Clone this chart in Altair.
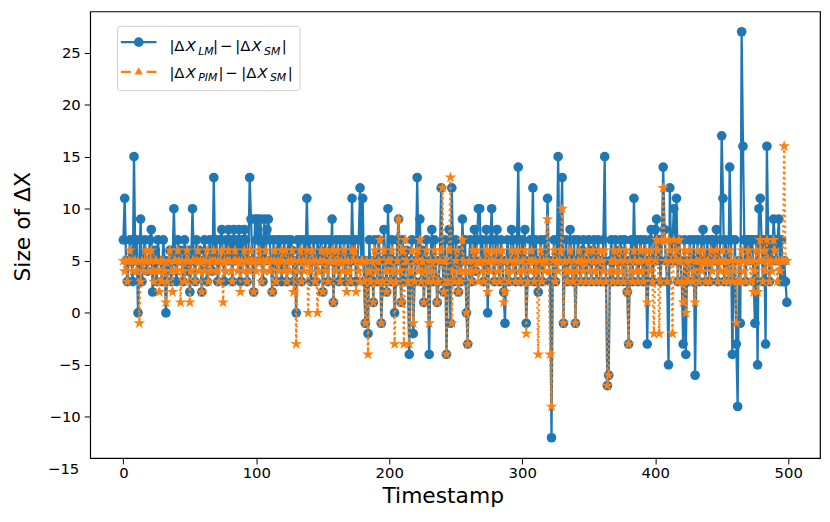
import altair as alt
import pandas as pd

# ---------------- data ----------------
timestamps = list(range(500))

lm_minus_sm = [
    7, 11, 5, 3, 5, 7, 5, 3, 15, 5,
    7, 0, 5, 9, 3, 5, 7, 5, 4, 5,
    7, 8, 2, 5, 6, 3, 7, 5, 5, 3,
    7, 5, 0, 4, 5, 6, 3, 5, 10, 5,
    3, 7, 5, 6, 5, 3, 7, 5, 4, 6,
    2, 5, 10, 5, 3, 7, 5, 6, 5, 2,
    5, 7, 5, 3, 5, 7, 5, 4, 13, 5,
    7, 3, 5, 7, 8, 5, 3, 7, 5, 8,
    5, 7, 3, 8, 5, 7, 5, 8, 3, 7,
    5, 8, 7, 3, 5, 13, 9, 5, 2, 9,
    7, 9, 5, 9, 7, 3, 9, 5, 8, 9,
    7, 5, 2, 7, 5, 3, 7, 5, 7, 3,
    5, 7, 5, 3, 7, 5, 7, 6, 3, 5,
    0, 7, 5, 7, 3, 5, 7, 5, 11, 5,
    7, 3, 5, 7, 5, 3, 7, 5, 6, 7,
    2, 5, 7, 5, 3, 7, 5, 9, 1, 5,
    7, 5, 3, 7, 5, 5, 7, 3, 5, 7,
    5, 3, 11, 5, 7, 3, 5, 7, 12, 5,
    11, 3, -1, 5, -2, 7, 3, 5, 1, 7,
    5, 3, 7, 5, -1, 3, 8, 5, 2, 10,
    5, 3, 7, 5, 0, 3, 7, 9, 5, 1,
    7, 3, 5, 6, 3, -4, 5, 7, -2, 3,
    5, 13, 5, 9, 3, 6, 1, 5, 7, 3,
    -4, 5, 8, 3, 7, 5, 1, 3, 5, 12,
    5, 2, 7, -4, 3, 8, -1, 12, 5, 3,
    7, 5, 2, 6, 3, 9, 5, 7, 0, -3,
    5, 7, 3, 5, 8, 4, 7, 10, 10, 5,
    7, 3, 5, 8, 0, 5, 7, 10, 5, 3,
    7, 8, 5, 3, 7, 5, 2, -1, 5, 7,
    3, 5, 8, 7, 5, 3, 7, 14, 5, 3,
    7, 5, 8, -1, 3, 5, 7, 5, 12, 3,
    7, 5, 2, 5, 7, 3, 5, 7, 5, 11,
    5, 3, -12, 5, 7, 3, 5, 15, 5, 7,
    13, -1, 5, 7, 3, 5, 8, 5, 3, 7,
    -1, 5, 7, 5, 3, 6, 7, 5, 3, 5,
    7, 5, 3, 6, 7, 5, 3, 7, 5, 3,
    5, 7, 15, 3, -7, -6, 5, 7, 3, 5,
    7, 5, 3, 6, 7, 5, 3, 7, 5, 2,
    -3, 5, 7, 3, 11, 5, 7, 3, 5, 7,
    5, 3, 7, 5, -3, 5, 7, 8, 3, 5,
    8, 9, 5, 7, 3, 7, 14, 8, 5, 3,
    -5, 12, 5, 7, 10, 5, 11, 3, 7, 5,
    3, -3, 7, -4, 5, 3, 7, 5, 3, 7,
    -6, 5, 7, 3, 5, 7, 8, 5, 3, 7,
    5, 3, 7, 5, 7, 5, 8, 3, 5, 7,
    17, 11, 3, 7, 5, 3, 14, 7, -4, 3,
    7, -3, -9, 5, -1, 27, 16, 7, 3, 7,
    7, 5, 7, 7, 3, -1, 7, -5, 10, 11,
    7, 3, 7, -3, 16, 7, 3, 7, 5, 9,
    7, 5, 7, 9, 3, 7, 3, 5, 3, 1,
]

pim_minus_sm = [
    5, 4, 5, 3, 5, 6, 5, 4, 5, 5,
    4, 5, -1, 3, 5, 4, 5, 6, 5, 4,
    5, 6, 4, 3, 5, 5, 4, 2, 5, 3,
    5, 4, 1, 3, 5, 6, 4, 2, 5, 5,
    4, 6, 5, 1, 5, 4, 3, 5, 6, 5,
    1, 4, 5, 5, 3, 5, 6, 4, 5, 2,
    5, 4, 5, 6, 3, 5, 4, 5, 6, 5,
    4, 5, 3, 5, 6, 1, 5, 4, 5, 6,
    5, 4, 3, 5, 6, 5, 4, 5, 2, 5,
    4, 6, 5, 3, 5, 4, 6, 5, 2, 5,
    4, 5, 6, 5, 3, 5, 4, 6, 5, 5,
    4, 5, 2, 5, 6, 3, 5, 4, 5, 6,
    5, 4, 6, 3, 5, 4, 5, 6, 2, 5,
    -3, 4, 5, 6, 3, 5, 4, 5, 6, 0,
    5, 4, 6, 5, 3, 5, 0, 4, 5, 6,
    2, 5, 4, 6, 3, 5, 5, 6, 1, 5,
    4, 6, 5, 3, 5, 4, 6, 5, 2, 5,
    4, 3, 6, 5, 6, 2, 5, 4, 3, 5,
    5, 3, -1, 5, -4, 4, 3, 5, 1, 6,
    4, 3, 5, 7, -1, 3, 6, 4, 2, 5,
    5, 3, 6, 4, -3, 3, 5, 9, 4, 1,
    6, -3, 7, 5, 3, -3, 4, 6, -1, 3,
    5, 6, 4, 7, 3, 5, 1, 4, 6, 3,
    -1, 5, 4, 3, 6, 5, 1, 3, 5, 6,
    12, 2, 5, -4, 3, 6, 13, -1, 4, 3,
    5, 6, 2, 4, 3, 7, 5, 4, 0, -3,
    5, 4, 3, 6, 5, 4, 6, 3, 5, 5,
    4, 3, 5, 6, 2, 5, 4, 6, 5, 3,
    5, 6, 4, 3, 5, 6, 1, 2, 5, 4,
    3, 5, 6, 4, 5, 3, 5, 6, 4, 3,
    5, 4, 6, -2, 3, 5, 4, 6, 5, 3,
    5, 4, -4, 5, 6, 3, 5, 4, 5, 9,
    4, -4, -9, 5, 6, 3, 5, 4, 5, 6,
    10, -1, 5, 4, 3, 5, 6, 4, 3, 5,
    -1, 4, 5, 6, 3, 5, 4, 5, 3, 6,
    5, 4, 3, 6, 5, 4, 3, 5, 6, 3,
    5, 4, 6, 3, -7, -6, 4, 5, 3, 6,
    5, 4, 3, 6, 5, 4, 3, 5, 6, 2,
    -3, 5, 4, 3, 6, 5, 4, 3, 5, 6,
    4, 3, 5, 6, 1, 5, 4, 6, 3, -2,
    5, 7, 6, -2, 3, 7, 12, 7, 5, 3,
    7, 6, 5, -2, 7, 5, 6, 3, 7, 5,
    3, 1, 6, 0, 5, 3, 6, 5, 3, 4,
    1, 5, 6, 3, 5, 4, 6, 5, 3, 5,
    5, 3, 6, 4, 5, 5, 6, 3, 5, 4,
    5, 6, 3, 5, 4, 3, 6, 5, 3, 4,
    5, -1, 3, 5, 3, 6, 5, 4, 3, 5,
    6, 5, 3, 5, 2, 4, 6, 2, 5, 7,
    5, 3, 6, 4, 7, 5, 3, 5, 4, 7,
    6, 5, 3, 5, 4, 5, 5, 16, 5, 5,
]

x_ticks = [0, 100, 200, 300, 400, 500]
y_ticks = [-10, -5, 0, 5, 10, 15, 20, 25]
x_title = "Timestamp"
y_title = "Size of ΔX"

# ---------------- styling / layout ----------------
FONT = "DejaVu Sans"
BLUE = "#1f77b4"
ORANGE = "#ff7f0e"
PL, PT = 91, 9          # page position of plot area's top-left corner
W, H = 737, 451

STAR = ("M0,-1L0.2245,-0.309L0.9511,-0.309L0.3633,0.118L0.5878,0.809"
        "L0,0.382L-0.5878,0.809L-0.3633,0.118L-0.9511,-0.309L-0.2245,-0.309Z")

df = pd.DataFrame({"t": timestamps, "lm": lm_minus_sm, "pim": pim_minus_sm})

xs = alt.Scale(domain=[-24.95, 523.95], nice=False, zero=False)
ys = alt.Scale(domain=[-13.95, 28.95], nice=False, zero=False)

x_axis = alt.Axis(values=x_ticks, title=x_title, grid=False, domain=False,
                  tickColor="black", tickSize=6, tickWidth=1,
                  labelFont=FONT, labelFontSize=15, labelColor="black", labelPadding=2,
                  titleFont=FONT, titleFontSize=22, titleFontWeight="normal", titleColor="black",
                  titleX=447 - PL, titleY=504.5 - (PT + H), titleBaseline="alphabetic",
                  titleAlign="center")
y_axis = alt.Axis(values=y_ticks, title=y_title, grid=False, domain=False,
                  tickColor="black", tickSize=6, tickWidth=1,
                  labelFont=FONT, labelFontSize=15, labelColor="black", labelPadding=4,
                  titleFont=FONT, titleFontSize=22, titleFontWeight="normal", titleColor="black",
                  titleX=29.5 - PL, titleY=226 - PT, titleAngle=-90, titleBaseline="alphabetic",
                  titleAlign="center")

base = alt.Chart(df)

blue_line = base.mark_line(color=BLUE, strokeWidth=2.3).encode(
    x=alt.X("t:Q", scale=xs, axis=x_axis),
    y=alt.Y("lm:Q", scale=ys, axis=y_axis),
)
blue_pts = base.mark_point(shape="circle", filled=True, size=95, opacity=1, color=BLUE).encode(
    x=alt.X("t:Q", scale=xs), y=alt.Y("lm:Q", scale=ys)
)
orange_line = base.mark_line(color=ORANGE, strokeWidth=2.3, strokeDash=[2.2, 3.2]).encode(
    x=alt.X("t:Q", scale=xs), y=alt.Y("pim:Q", scale=ys)
)
orange_pts = base.mark_point(shape=STAR, filled=True, size=150, opacity=1, color=ORANGE).encode(
    x=alt.X("t:Q", scale=xs), y=alt.Y("pim:Q", scale=ys)
)

one = pd.DataFrame({"k": [0]})

# lone "-15" label shown below the frame in the reference
minus15 = alt.Chart(pd.DataFrame({"v": [-15]})).mark_text(
    text="\u221215", font=FONT, fontSize=15, align="right", baseline="middle", color="black"
).encode(x=alt.value(80 - PL), y=alt.Y("v:Q", scale=ys))

# ---------------- legend ----------------
legend_layers = [
    alt.Chart(one).mark_rect(fill="white", fillOpacity=0.8, stroke="#cccccc", strokeWidth=1,
                             cornerRadius=3).encode(
        x=alt.value(118.5 - PL), x2=alt.value(303 - PL),
        y=alt.value(24 - PT), y2=alt.value(89 - PT)),
    alt.Chart(one).mark_rule(color=BLUE, strokeWidth=2.3).encode(
        x=alt.value(122 - PL), x2=alt.value(158 - PL), y=alt.value(40 - PT)),
    alt.Chart(one).mark_point(shape="circle", filled=True, size=95, opacity=1, color=BLUE).encode(
        x=alt.value(140 - PL), y=alt.value(40 - PT)),
    alt.Chart(one).mark_rule(color=ORANGE, strokeWidth=2.3, strokeDash=[10, 16]).encode(
        x=alt.value(122 - PL), x2=alt.value(158 - PL), y=alt.value(70 - PT)),
    alt.Chart(one).mark_point(shape="triangle-up", filled=True, size=70, opacity=1, color=ORANGE).encode(
        x=alt.value(140 - PL), y=alt.value(69 - PT)),
]

def piece(x, y, s, size=15, italic=False):
    return alt.Chart(one).mark_text(
        text=s, font=FONT, fontSize=size, fontStyle="italic" if italic else "normal",
        align="left", baseline="alphabetic", color="black"
    ).encode(x=alt.value(x - PL), y=alt.value(y - PT))

rows = [
    (49, 52.5, [(171, "|", 0), (176, "Δ", 0), (187.5, "X", 1), (200, "LM", 2), (215, "|", 0),
                (222, "\u2212", 0), (237.5, "|", 0), (242.5, "Δ", 0), (254, "X", 1), (266.5, "SM", 2),
                (284.5, "|", 0)]),
    (76, 79.5, [(171, "|", 0), (176, "Δ", 0), (187.5, "X", 1), (200, "PIM", 2), (220.5, "|", 0),
                (227.5, "\u2212", 0), (243.5, "|", 0), (248.5, "Δ", 0), (260, "X", 1), (272.5, "SM", 2),
                (290.5, "|", 0)]),
]
for yb, ysub, parts in rows:
    for px, s, kind in parts:
        if kind == 2:
            legend_layers.append(piece(px, ysub, s, size=11, italic=True))
        else:
            legend_layers.append(piece(px, yb, s, size=15, italic=(kind == 1)))

chart = alt.layer(blue_line, blue_pts, orange_line, orange_pts, minus15, *legend_layers).properties(
    width=W, height=H,
    padding={"left": PL - 8, "top": PT - 8, "right": 2, "bottom": 49},
    autosize=alt.AutoSizeParams(type="none"),
    background="white",
).configure_view(stroke="black", strokeWidth=1.2)

chart.save("out.html", embed_options={"renderer": "svg", "actions": False})
